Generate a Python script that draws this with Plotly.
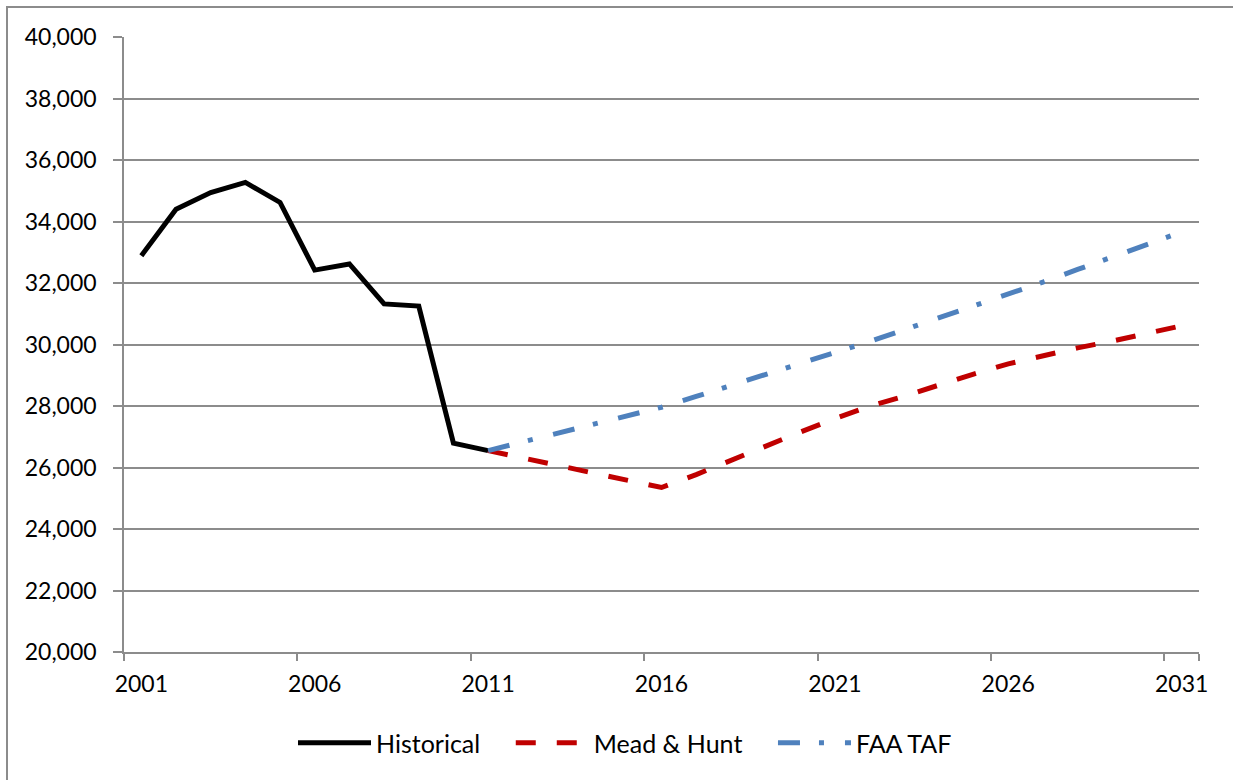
import plotly.graph_objects as go

years = [str(y) for y in range(2001, 2032)]

hist_years = [str(y) for y in range(2001, 2012)]
historical = [32890, 34400, 34940, 35270, 34620, 32420, 32620, 31320, 31250, 26790, 26550]

fc_years = [str(y) for y in range(2011, 2032)]
mead_hunt = [26550, 26310, 26080, 25840, 25600, 25350, 25770, 26240, 26700, 27150,
             27590, 27990, 28320, 28690, 29040, 29370, 29640, 29890, 30110, 30360, 30610]
faa_taf = [26550, 26840, 27120, 27400, 27680, 27960, 28310, 28660, 29020, 29380,
           29730, 30100, 30480, 30860, 31240, 31640, 32030, 32440, 32850, 33260, 33660]

tick_years = [str(y) for y in range(2001, 2032, 5)]

FONT = "Lato, Carlito, Calibri, sans-serif"
GRID = "#8c8c8c"
PAD = "\u00a0" * 4

fig = go.Figure()
fig.add_trace(go.Scatter(x=hist_years, y=historical, mode="lines", name="Historical" + PAD,
                         line=dict(color="#000000", width=5)))
fig.add_trace(go.Scatter(x=fc_years, y=mead_hunt, mode="lines", name="Mead & Hunt" + PAD,
                         line=dict(color="#C00000", width=5, dash="20px,21px")))
fig.add_trace(go.Scatter(x=fc_years, y=faa_taf, mode="lines", name="FAA TAF",
                         line=dict(color="#4F81BD", width=5, dash="22px,19px,5px,21px")))

fig.update_layout(
    width=1233, height=780,
    margin=dict(l=124, r=34, t=37, b=128, autoexpand=False),
    paper_bgcolor="white", plot_bgcolor="white",
    font=dict(family=FONT, size=23, color="#000000"),
    showlegend=True,
    legend=dict(orientation="h", x=(625 - 124) / 1075, xanchor="center",
                y=(652 - 743) / 615, yanchor="middle",
                font=dict(family=FONT, size=25, color="#000000"),
                itemwidth=73, tracegroupgap=0, bgcolor="rgba(0,0,0,0)"),
    xaxis=dict(type="category", categoryorder="array", categoryarray=years,
               range=[-0.5, 30.5], tickmode="array", tickvals=tick_years,
               ticktext=tick_years, tickson="boundaries", tickangle=0,
               automargin=False,
               showgrid=False, showline=True, linecolor=GRID, linewidth=1.5,
               ticks="outside", ticklen=7, tickwidth=1.5, tickcolor=GRID,
               ticklabelstandoff=11, zeroline=False,
               tickfont=dict(family=FONT, size=23, color="#000000")),
    yaxis=dict(range=[20000, 40000], dtick=2000, tick0=20000, tickformat=",d",
               automargin=False,
               showgrid=True, gridcolor=GRID, gridwidth=1.5,
               showline=True, linecolor=GRID, linewidth=1.5,
               ticks="outside", ticklen=9, tickwidth=1.5, tickcolor=GRID,
               ticklabelstandoff=12, zeroline=False,
               tickfont=dict(family=FONT, size=23, color="#000000")),
    shapes=[dict(type="rect", xref="paper", yref="paper",
                 x0=(7 - 124) / 1075, x1=1.2, y0=-0.4, y1=(652 - 7) / 615,
                 line=dict(color="#8c8c8c", width=2), layer="below")],
)

fig.write_html("out.html", config={"displayModeBar": False},
               post_script="document.body.style.margin='0';document.body.style.overflow='hidden';")
